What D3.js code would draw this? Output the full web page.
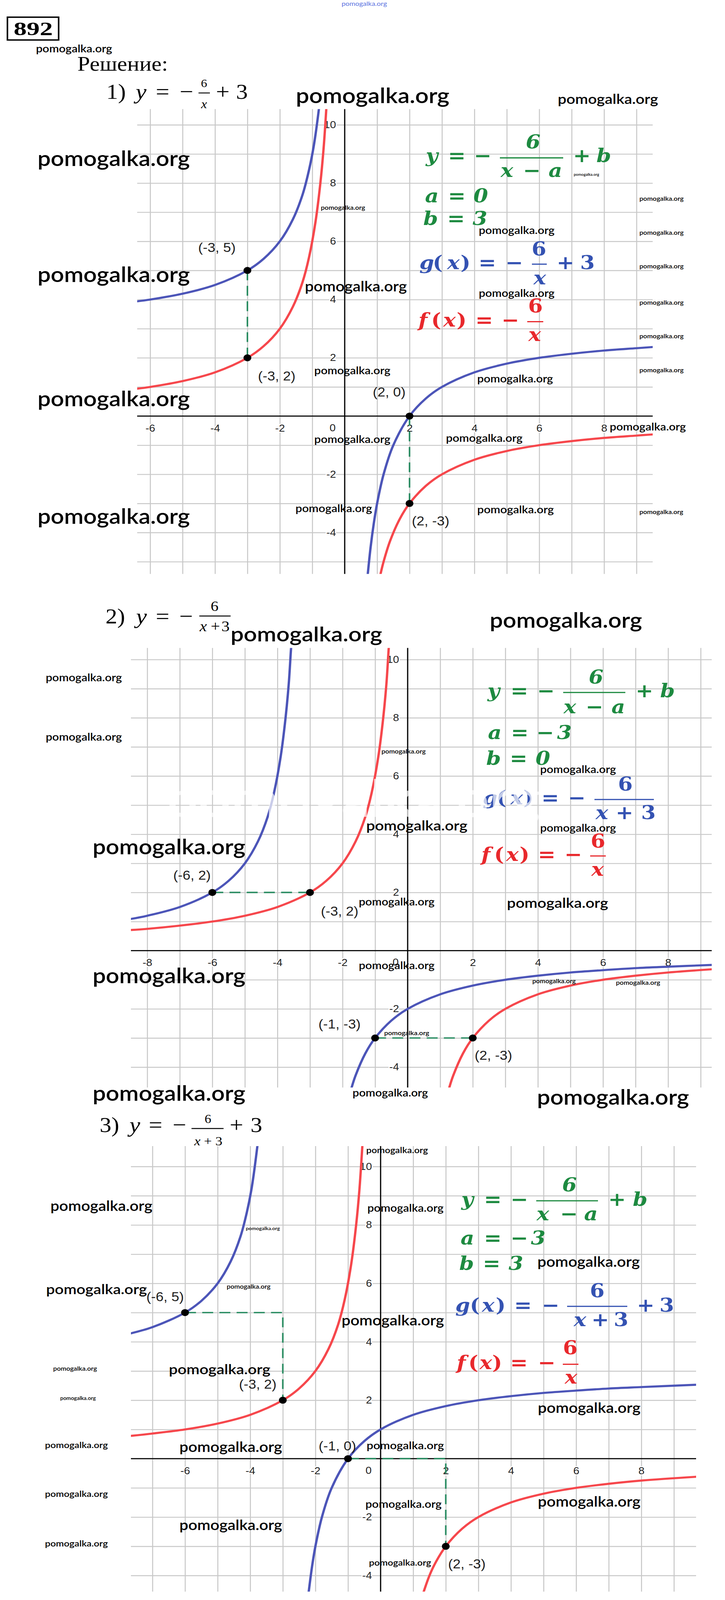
<!DOCTYPE html>
<html><head><meta charset="utf-8">
<script src="https://cdn.jsdelivr.net/npm/d3@7"></script>
<style>html,body{margin:0;padding:0;background:#fff;overflow:hidden}svg{display:block}</style>
</head><body>
<svg id="c"></svg>
<script>
// ---------------- DATA ----------------
const g1XDomain = [-6.4, 9.5];
const g1YDomain = [-5.42, 10.54];
const g1XTicks = [-6, -4, -2, 0, 2, 4, 6, 8];
const g1YTicks = [10, 8, 6, 4, 2, -2, -4];
const g1BlueLeft  = [[-6.4,3.94],[-6,4],[-5,4.2],[-4,4.5],[-3,5],[-2.5,5.4],[-2,6],[-1.6,6.75],[-1.3,7.6],[-1.1,8.45],[-0.95,9.3],[-0.8,10.5],[-0.79,10.6]];
const g1BlueRight = [[0.71,-5.45],[0.8,-4.5],[0.9,-3.67],[1,-3],[1.2,-2],[1.5,-1],[2,0],[2.5,0.6],[3,1],[4,1.5],[5,1.8],[6,2],[7,2.14],[8,2.25],[9,2.33],[9.5,2.37]];
const g1RedLeft   = [[-6.4,0.94],[-6,1],[-5,1.2],[-4,1.5],[-3,2],[-2.5,2.4],[-2,3],[-1.6,3.75],[-1.3,4.6],[-1.1,5.45],[-0.9,6.67],[-0.75,8],[-0.65,9.2],[-0.57,10.5],[-0.565,10.6]];
const g1RedRight  = [[1.1,-5.45],[1.2,-5],[1.4,-4.29],[1.7,-3.53],[2,-3],[2.5,-2.4],[3,-2],[4,-1.5],[5,-1.2],[6,-1],[7,-0.86],[8,-0.75],[9,-0.67],[9.5,-0.63]];
const g1Points = [[-3,5],[-3,2],[2,0],[2,-3]];
const g1PointLabels = ["(-3, 5)", "(-3, 2)", "(2, 0)", "(2, -3)"];
const g1Dashes = [[[-3,5],[-3,2]], [[2,0],[2,-3]]];

const g2XDomain = [-8.5, 9.34];
const g2YDomain = [-4.7, 10.4];
const g2XTicks = [-8, -6, -4, -2, 0, 2, 4, 6, 8];
const g2YTicks = [10, 8, 6, 4, 2, -2, -4];
const g2BlueLeft  = [[-8.5,1.09],[-8,1.2],[-7,1.5],[-6,2],[-5.5,2.4],[-5,3],[-4.6,3.75],[-4.3,4.6],[-4.1,5.45],[-3.9,6.67],[-3.75,8],[-3.65,9.2],[-3.58,10.4],[-3.57,10.5]];
const g2BlueRight = [[-1.72,-4.7],[-1.6,-4.29],[-1.3,-3.53],[-1,-3],[-0.5,-2.4],[0,-2],[1,-1.5],[2,-1.2],[3,-1],[4,-0.86],[5,-0.75],[6,-0.67],[7,-0.6],[8,-0.55],[9.34,-0.49]];
const g2RedLeft   = [[-8.5,0.71],[-8,0.75],[-7,0.86],[-6,1],[-5,1.2],[-4,1.5],[-3,2],[-2.5,2.4],[-2,3],[-1.6,3.75],[-1.3,4.6],[-1.1,5.45],[-0.9,6.67],[-0.75,8],[-0.65,9.2],[-0.58,10.4],[-0.57,10.5]];
const g2RedRight  = [[1.28,-4.7],[1.4,-4.29],[1.7,-3.53],[2,-3],[2.5,-2.4],[3,-2],[4,-1.5],[5,-1.2],[6,-1],[7,-0.86],[8,-0.75],[9.34,-0.64]];
const g2Points = [[-6,2],[-3,2],[-1,-3],[2,-3]];
const g2PointLabels = ["(-6, 2)", "(-3, 2)", "(-1, -3)", "(2, -3)"];
const g2Dashes = [[[-6,2],[-3,2]], [[-1,-3],[2,-3]]];

const g3XDomain = [-7.66, 9.68];
const g3YDomain = [-4.55, 10.7];
const g3XTicks = [-6, -4, -2, 0, 2, 4, 6, 8];
const g3YTicks = [10, 8, 6, 4, 2, -2, -4];
const g3BlueLeft  = [[-7.66,4.29],[-7,4.5],[-6,5],[-5.5,5.4],[-5,6],[-4.6,6.75],[-4.3,7.6],[-4.1,8.45],[-3.95,9.3],[-3.78,10.7],[-3.77,10.8]];
const g3BlueRight = [[-2.21,-4.6],[-2.1,-3.67],[-2,-3],[-1.8,-2],[-1.5,-1],[-1,0],[-0.5,0.6],[0,1],[1,1.5],[2,1.8],[3,2],[4,2.14],[5,2.25],[6,2.33],[7,2.4],[8,2.45],[9.68,2.53]];
const g3RedLeft   = [[-7.66,0.78],[-7,0.86],[-6,1],[-5,1.2],[-4,1.5],[-3,2],[-2.5,2.4],[-2,3],[-1.6,3.75],[-1.3,4.6],[-1.1,5.45],[-0.9,6.67],[-0.75,8],[-0.65,9.2],[-0.56,10.7],[-0.555,10.8]];
const g3RedRight  = [[1.31,-4.6],[1.5,-4],[1.7,-3.53],[2,-3],[2.5,-2.4],[3,-2],[4,-1.5],[5,-1.2],[6,-1],[7,-0.86],[8,-0.75],[9.68,-0.62]];
const g3Points = [[-6,5],[-3,2],[-1,0],[2,-3]];
const g3PointLabels = ["(-6, 5)", "(-3, 2)", "(-1, 0)", "(2, -3)"];
const g3Dashes = [[[-6,5],[-3,5],[-3,2]], [[-1,0],[2,0],[2,-3]]];

// ---------------- STYLE / LAYOUT ----------------
const BLUE = "#4c55b8", RED = "#f6474c", GREEN = "#2a8c62";
const GREEN_T = "#1d8a40", BLUE_T = "#3452b2", RED_T = "#e8282c";
const SERIF = "'Liberation Serif','Times New Roman',serif";
const MATH = "'DejaVu Serif',serif";
const SANS = "'Liberation Sans',Arial,sans-serif";
const WMF = "Lato,'Open Sans',sans-serif";

// design space is 1855x4561; fit it into whatever viewport the browser really gives
const DW = 1855, DH = 4561;
const VW = Math.min(DW, window.innerWidth || DW), VH = Math.min(DH, window.innerHeight || DH);
const svg = d3.select("#c").attr("width", VW).attr("height", VH)
  .attr("viewBox", `0 0 ${DW} ${DH}`).attr("preserveAspectRatio", "none");

const graphs = [
  {id:1, xDomain:g1XDomain, yDomain:g1YDomain, xRange:[351,1670], yRange:[1636,311],
   xTicks:g1XTicks, yTicks:g1YTicks, blue:[g1BlueLeft,g1BlueRight], red:[g1RedLeft,g1RedRight],
   points:g1Points, labels:g1PointLabels, dashes:g1Dashes,
   offs:[[-78,-65],[75,53],[-52,-68],[54,51]]},
  {id:2, xDomain:g2XDomain, yDomain:g2YDomain, xRange:[335,1821], yRange:[3100,1847],
   xTicks:g2XTicks, yTicks:g2YTicks, blue:[g2BlueLeft,g2BlueRight], red:[g2RedLeft,g2RedRight],
   points:g2Points, labels:g2PointLabels, dashes:g2Dashes,
   offs:[[-52,-48],[76,54],[-91,-39],[53,50]]},
  {id:3, xDomain:g3XDomain, yDomain:g3YDomain, xRange:[335,1781], yRange:[4537,3267],
   xTicks:g3XTicks, yTicks:g3YTicks, blue:[g3BlueLeft,g3BlueRight], red:[g3RedLeft,g3RedRight],
   points:g3Points, labels:g3PointLabels, dashes:g3Dashes,
   offs:[[-51,-44],[-64,-45],[-27,-35],[54,51]]}
];

function drawGraph(cfg) {
  const x = d3.scaleLinear().domain(cfg.xDomain).range(cfg.xRange);
  const y = d3.scaleLinear().domain(cfg.yDomain).range(cfg.yRange);
  const L = cfg.xRange[0], R = cfg.xRange[1], B = cfg.yRange[0], T = cfg.yRange[1];
  const W = R - L, H = B - T;
  const g = svg.append("g");
  const clipId = "clip" + cfg.id;
  svg.append("clipPath").attr("id", clipId).append("rect")
    .attr("x", L).attr("y", T).attr("width", W).attr("height", H);

  const gx = d3.range(Math.ceil(cfg.xDomain[0]), Math.floor(cfg.xDomain[1]) + 1);
  const gy = d3.range(Math.ceil(cfg.yDomain[0]), Math.floor(cfg.yDomain[1]) + 1);
  const vg = g.append("g").attr("transform", `translate(0,${B})`)
    .call(d3.axisBottom(x).tickValues(gx).tickSize(-H).tickFormat(""));
  vg.select(".domain").remove();
  vg.selectAll("line").attr("stroke", "#c8c8c8").attr("stroke-width", 2.6);
  const hg = g.append("g").attr("transform", `translate(${L},0)`)
    .call(d3.axisLeft(y).tickValues(gy).tickSize(-W).tickFormat(""));
  hg.select(".domain").remove();
  hg.selectAll("line").attr("stroke", "#c8c8c8").attr("stroke-width", 2.6);

  g.append("line").attr("x1", L).attr("x2", R).attr("y1", y(0)).attr("y2", y(0))
    .attr("stroke", "#000").attr("stroke-width", 3);
  g.append("line").attr("x1", x(0)).attr("x2", x(0)).attr("y1", T).attr("y2", B)
    .attr("stroke", "#000").attr("stroke-width", 3);

  const xa = g.append("g").attr("transform", `translate(0,${y(0)})`)
    .call(d3.axisBottom(x).tickValues(cfg.xTicks.filter(d => d !== 0)).tickSize(0).tickPadding(24).tickFormat(d => String(d)));
  xa.select(".domain").remove();
  const ya = g.append("g").attr("transform", `translate(${x(0)},0)`)
    .call(d3.axisLeft(y).tickValues(cfg.yTicks).tickSize(0).tickPadding(22).tickFormat(d => String(d)));
  ya.select(".domain").remove();
  if (cfg.xTicks.includes(0)) {
    g.append("text").attr("class", "zero").attr("x", x(0) - 23).attr("y", y(0) + 43)
      .attr("text-anchor", "end").text("0");
  }
  g.selectAll(".tick text, text.zero")
    .attr("font-family", SANS).attr("font-size", 28).attr("fill", "#222")
    .attr("stroke", "#fff").attr("stroke-width", 6).attr("paint-order", "stroke")
    .attr("stroke-linejoin", "round");

  const line = d3.line().x(d => x(d[0])).y(d => y(d[1])).curve(d3.curveCatmullRom.alpha(0.5));
  const cg = g.append("g").attr("clip-path", `url(#${clipId})`);
  cfg.red.forEach(br => cg.append("path").attr("d", line(br)).attr("fill", "none")
    .attr("stroke", RED).attr("stroke-width", 6).attr("stroke-linecap", "round"));
  cfg.blue.forEach(br => cg.append("path").attr("d", line(br)).attr("fill", "none")
    .attr("stroke", BLUE).attr("stroke-width", 6).attr("stroke-linecap", "round"));

  const lin = d3.line().x(d => x(d[0])).y(d => y(d[1]));
  cfg.dashes.forEach(ds => g.append("path").attr("d", lin(ds)).attr("fill", "none")
    .attr("stroke", GREEN).attr("stroke-width", 4).attr("stroke-dasharray", "28,16"));

  g.selectAll(null).data(cfg.points).enter().append("circle")
    .attr("cx", d => x(d[0])).attr("cy", d => y(d[1])).attr("r", 10).attr("fill", "#000");

  g.selectAll(null).data(cfg.points).enter().append("text")
    .attr("x", (d, i) => x(d[0]) + cfg.offs[i][0])
    .attr("y", (d, i) => y(d[1]) + cfg.offs[i][1] + 12)
    .attr("text-anchor", "middle").attr("font-family", SANS).attr("font-size", 36)
    .attr("fill", "#1e1e1e").text((d, i) => cfg.labels[i]);
}
graphs.forEach(drawGraph);

function drawMath(pieces, color, size) {
  pieces.forEach(p => {
    if (p[0] === "bar") {
      svg.append("line").attr("x1", p[1]).attr("x2", p[2]).attr("y1", p[3]).attr("y2", p[3])
        .attr("stroke", color).attr("stroke-width", 3.4);
      return;
    }
    svg.append("text").attr("x", p[1]).attr("y", p[2]).attr("text-anchor", "middle")
      .attr("font-family", MATH).attr("font-size", size).attr("font-weight", "bold")
      .attr("font-style", p[3] === "i" ? "italic" : "normal").attr("fill", color).text(p[0]);
  });
}
const MS = 54;
drawMath([["y",1105,462,"i"],["=",1169,462,"b"],["−",1235,462,"b"],["bar",1279,1441,450],["6",1364,423,"i"],
  ["x",1297,504,"i"],["−",1361,504,"b"],["a",1421,504,"i"],["+",1489,462,"b"],["b",1545,462,"i"],
  ["a",1105,577,"i"],["=",1169,577,"b"],["0",1230,577,"i"],
  ["b",1102,641,"i"],["=",1167,641,"b"],["3",1228,641,"i"]], GREEN_T, MS);
drawMath([["g",1092,767,"i"],["(",1120,767,"b"],["x",1160,767,"i"],[")",1191,767,"b"],["=",1247,767,"b"],["−",1316,767,"b"],
  ["bar",1361,1399,753],["6",1379,728,"b"],["x",1381,811,"i"],["+",1447,767,"b"],["3",1503,767,"b"]], BLUE_T, MS);
drawMath([["f",1082,931,"i"],["(",1116,931,"b"],["x",1150,931,"i"],[")",1181,931,"b"],["=",1239,931,"b"],["−",1306,931,"b"],
  ["bar",1349,1390,917],["6",1370,891,"b"],["x",1368,972,"i"]], RED_T, MS);
drawMath([["y",1263,1988,"i"],["=",1329,1988,"b"],["−",1397,1988,"b"],["bar",1441,1600,1974],["6",1525,1949,"i"],
  ["x",1458,2033,"i"],["−",1521,2033,"b"],["a",1582,2033,"i"],["+",1649,1988,"b"],["b",1708,1988,"i"],
  ["a",1266,2107,"i"],["=",1330,2107,"b"],["−",1395,2107,"b"],["3",1444,2107,"i"],
  ["b",1263,2180,"i"],["=",1327,2180,"b"],["0",1389,2180,"i"]], GREEN_T, MS);
drawMath([["g",1254,2293,"i"],["(",1283,2293,"b"],["x",1322,2293,"i"],[")",1352,2293,"b"],["=",1408,2293,"b"],["−",1476,2293,"b"],
  ["bar",1521,1673,2279],["6",1600,2254,"b"],["x",1540,2335,"i"],["+",1598,2335,"b"],["3",1659,2335,"b"]], BLUE_T, MS);
drawMath([["f",1243,2454,"i"],["(",1277,2454,"b"],["x",1311,2454,"i"],[")",1342,2454,"b"],["=",1399,2454,"b"],["−",1467,2454,"b"],
  ["bar",1510,1550,2440],["6",1530,2416,"b"],["x",1529,2496,"i"]], RED_T, MS);
drawMath([["y",1196,3437,"i"],["=",1261,3437,"b"],["−",1329,3437,"b"],["bar",1372,1530,3423],["6",1457,3396,"i"],
  ["x",1389,3479,"i"],["−",1456,3479,"b"],["a",1512,3479,"i"],["+",1579,3437,"b"],["b",1638,3437,"i"],
  ["a",1196,3548,"i"],["=",1261,3548,"b"],["−",1329,3548,"b"],["3",1377,3548,"i"],
  ["b",1194,3620,"i"],["=",1258,3620,"b"],["3",1320,3620,"i"]], GREEN_T, MS);
drawMath([["g",1184,3739,"i"],["(",1215,3739,"b"],["x",1249,3739,"i"],[")",1281,3739,"b"],["=",1338,3739,"b"],["−",1409,3739,"b"],
  ["bar",1451,1605,3724],["6",1528,3698,"b"],["x",1484,3780,"i"],["+",1536,3780,"b"],["3",1589,3780,"b"],
  ["+",1652,3739,"b"],["3",1706,3739,"b"]], BLUE_T, MS);
drawMath([["f",1180,3903,"i"],["(",1211,3903,"b"],["x",1243,3903,"i"],[")",1272,3903,"b"],["=",1328,3903,"b"],["−",1399,3903,"b"],
  ["bar",1440,1480,3889],["6",1459,3861,"b"],["x",1461,3944,"i"]], RED_T, MS);

svg.append("rect").attr("x", 19).attr("y", 49).attr("width", 131).attr("height", 65)
  .attr("fill", "none").attr("stroke", "#000").attr("stroke-width", 4);
svg.append("text").attr("x", 85).attr("y", 100).attr("text-anchor", "middle")
  .attr("font-family", SERIF).attr("font-weight", "bold").attr("font-size", 54)
  .attr("textLength", 100).attr("lengthAdjust", "spacingAndGlyphs").text("892");
svg.append("text").attr("x", 198).attr("y", 202).attr("font-family", SERIF)
  .attr("font-size", 58).text("Решение:");

function drawTitle(pieces) {
  pieces.forEach(p => {
    if (p[0] === "bar") {
      svg.append("line").attr("x1", p[1]).attr("x2", p[2]).attr("y1", p[3]).attr("y2", p[3])
        .attr("stroke", "#000").attr("stroke-width", 2.6);
      return;
    }
    svg.append("text").attr("x", p[1]).attr("y", p[2]).attr("text-anchor", "middle")
      .attr("font-family", SERIF).attr("font-size", p[4])
      .attr("font-style", p[3] === "i" ? "italic" : "normal").attr("fill", "#000").text(p[0]);
  });
}
drawTitle([["1)",297,282,"n",60],["y",361,282,"i",62],["=",416,282,"n",62],["−",477,282,"n",62],
  ["6",522,248,"n",32],["bar",508,537,265],["x",522,308,"i",34],["+",570,282,"n",62],["3",619,282,"n",60]]);
drawTitle([["2)",295,1777,"n",60],["y",362,1777,"i",62],["=",416,1777,"n",62],["−",476,1777,"n",62],
  ["6",549,1742,"n",40],["bar",510,590,1756],["x",520,1800,"i",42],["+",551,1800,"n",42],["3",577,1800,"n",42]]);
drawTitle([["3)",280,3227,"n",60],["y",345,3227,"i",62],["=",398,3227,"n",62],["−",459,3227,"n",62],
  ["6",532,3201,"n",34],["bar",490,572,3217],["x",505,3265,"i",36],["+",532,3265,"n",36],["3",560,3265,"n",36],
  ["+",605,3227,"n",62],["3",656,3227,"n",60]]);

// watermarks: [x, centerY, width]
const wm = [
  [92,141,195],[757,277,393],[1427,285,257],[96,457,390],[821,593,113],[1468,498,65],
  [1636,568,113],[1636,664,113],[1636,760,113],[1636,864,113],[1636,960,113],[1636,1056,113],
  [1225,659,194],[96,787,390],[780,820,261],[1225,838,194],[804,1059,195],[1221,1082,194],
  [96,1142,390],[804,1255,195],[1141,1251,196],[1560,1219,195],[96,1477,390],[756,1451,196],
  [1221,1455,196],[1636,1461,112],
  [590,1812,388],[1253,1773,390],[117,1934,195],[117,2103,195],[976,2143,113],[1382,2195,194],
  [937,2356,259],[1382,2363,194],[237,2419,391],[918,2573,194],[1297,2577,259],[237,2786,391],
  [918,2754,194],[1362,2798,111],[1576,2802,113],[983,2946,115],[902,3117,193],[237,3121,391],
  [1374,3133,389],
  [937,3280,158],[129,3441,261],[940,3446,195],[629,3503,87],[1375,3600,262],[118,3678,258],
  [580,3669,112],[874,3767,262],[136,3903,112],[432,3906,260],[154,3987,91],[115,4121,161],
  [459,4128,263],[938,4123,198],[1376,4016,263],[1376,4284,263],[115,4260,161],[935,4290,195],
  [459,4351,263],[115,4402,161],[944,4456,159]
];
svg.append("text").attr("x", 424).attr("y", 2328).attr("font-family", WMF).attr("font-weight", 600)
  .attr("font-size", 145).attr("textLength", 958).attr("lengthAdjust", "spacingAndGlyphs")
  .attr("fill", "#fff").attr("opacity", 0.7).text("pomogalka.org");

wm.forEach(w => {
  const fs = w[2] / 6.6;
  svg.append("text").attr("x", w[0]).attr("y", w[1] + fs * 0.28)
    .attr("font-family", WMF).attr("font-weight", 600).attr("font-size", fs)
    .attr("textLength", w[2]).attr("lengthAdjust", "spacingAndGlyphs")
    .attr("fill", "#000").text("pomogalka.org");
});
svg.append("text").attr("x", 874).attr("y", 17).attr("font-family", WMF)
  .attr("font-size", 17).attr("textLength", 116).attr("lengthAdjust", "spacingAndGlyphs")
  .attr("fill", "#5a72e0").text("pomogalka.org");
</script>
</body></html>
